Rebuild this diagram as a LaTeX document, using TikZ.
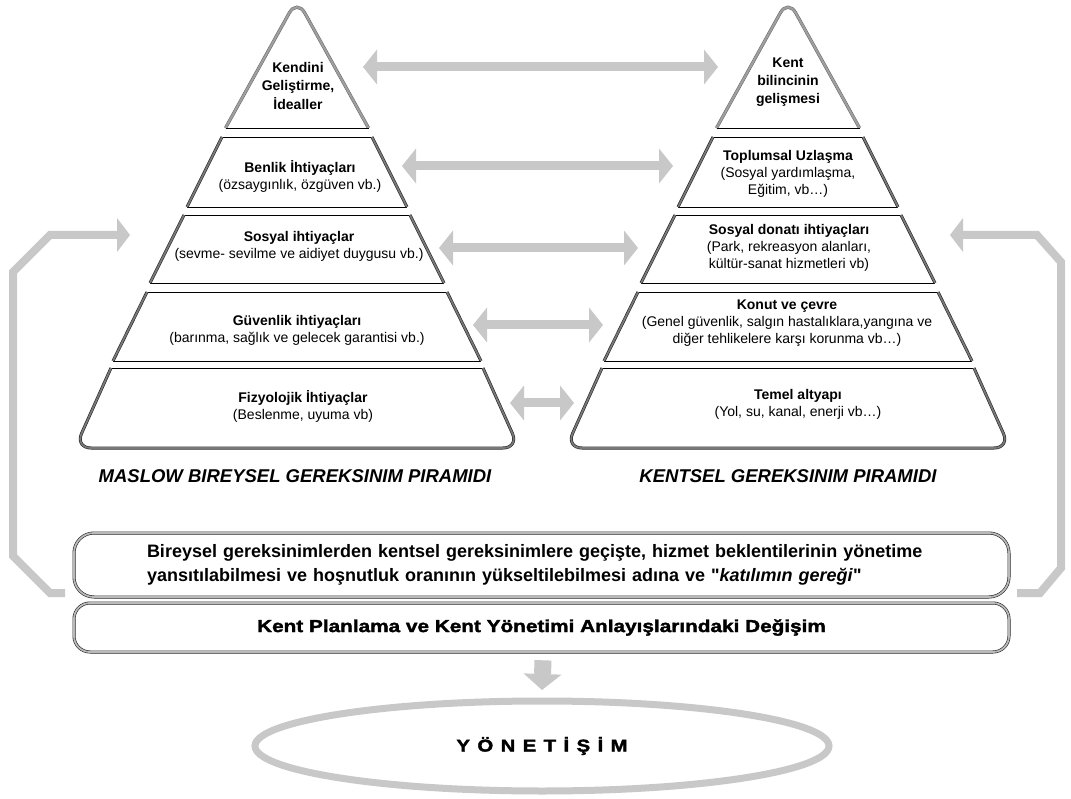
\documentclass[tikz,border=0pt]{standalone}
\usepackage{fontspec}
\setmainfont{Liberation Sans}[Ligatures=TeXOff]
\newfontfamily\blackfont{Liberation Sans Bold}[FakeBold=2,FakeStretch=1.2]
\usetikzlibrary{arrows.meta,shapes.geometric,calc}
\definecolor{arrgray}{RGB}{200,200,200}
\definecolor{sidegray}{RGB}{120,120,120}
\newcommand\drawpyramid[1]{%
  % top triangle
  \draw[topside, rounded corners=16pt] ({#1-71.5},128) -- (#1,-1) -- ({#1+71.5},128);
  \draw[thinline] ({#1-71.5},128) -- ({#1+71.5},128);
  % tier 2
  \draw[thinline] ({#1-75},137) -- ({#1+75},137);
  \draw[thinline] ({#1-110},207) -- ({#1+110},207);
  \draw[tierside] ({#1-75},137) -- ({#1-110},207);
  \draw[tierside] ({#1+75},137) -- ({#1+110},207);
  % tier 3
  \draw[thinline] ({#1-113},215) -- ({#1+113},215);
  \draw[thinline] ({#1-147},283) -- ({#1+147},283);
  \draw[tierside] ({#1-113},215) -- ({#1-147},283);
  \draw[tierside] ({#1+113},215) -- ({#1+147},283);
  % tier 4
  \draw[thinline] ({#1-150},292) -- ({#1+150},292);
  \draw[thinline] ({#1-184},361) -- ({#1+184},361);
  \draw[tierside] ({#1-150},292) -- ({#1-184},361);
  \draw[tierside] ({#1+150},292) -- ({#1+184},361);
  % tier 5
  \draw[thinline] ({#1-186},368) -- ({#1+186},368);
  \draw[tierside, rounded corners=16pt] ({#1-186},368) -- ({#1-222},448) -- ({#1+222},448) -- ({#1+186},368);
}
\begin{document}
\begin{tikzpicture}[x=1pt,y=-1pt,
  thinline/.style={draw=black, line width=0.9pt},
  tierside/.style={draw=black!85, line width=0.6pt, double=sidegray, double distance=1.8pt},
  topside/.style={draw=black!60, line width=0.5pt, double=gray!75, double distance=2.2pt},
  tiertext/.style={align=center, font=\fontsize{14}{17}\selectfont, inner sep=0pt},
  toptext/.style={align=center, font=\fontsize{14}{18}\selectfont\bfseries, inner sep=0pt},
  pyrlabel/.style={font=\fontsize{18.5}{22}\selectfont\bfseries\itshape, inner sep=0pt},
  dblarrow/.style={draw=arrgray, line width=9pt,
    {Triangle[length=14pt,width=35pt,line width=0pt]}-{Triangle[length=14pt,width=35pt,line width=0pt]}},
  bracketarrow/.style={draw=arrgray, line width=8pt,
    -{Triangle[length=13pt,width=34pt,line width=0pt]}},
  downarrow/.style={draw=arrgray, line width=17pt,
    -{Triangle[length=16pt,width=38pt,line width=0pt]}},
  roundbox/.style={draw=black!85, line width=0.6pt, double=gray!55, double distance=1.8pt,
    minimum width=935pt, inner sep=0pt},
]
\fill[white] (0,0) rectangle (1071,799);
\useasboundingbox (0,0) rectangle (1071,799);

% pyramids
\drawpyramid{297}
\drawpyramid{788}

% left pyramid texts
\node[toptext] (L1) at (298,86) {Kendini\\Geliştirme,\\İdealler};
\node[tiertext] (L2) at (300,176) {\textbf{Benlik İhtiyaçları}\\(özsaygınlık, özgüven vb.)};
\node[tiertext] (L3) at (299,246) {\textbf{Sosyal ihtiyaçlar}\\(sevme- sevilme ve aidiyet duygusu vb.)};
\node[tiertext] (L4) at (297,330) {\textbf{Güvenlik ihtiyaçları}\\(barınma, sağlık ve gelecek garantisi vb.)};
\node[tiertext] (L5) at (303,406) {\textbf{Fizyolojik İhtiyaçlar}\\(Beslenme, uyuma vb)};

% right pyramid texts
\node[toptext] (R1) at (788,82) {Kent\\bilincinin\\gelişmesi};
\node[tiertext] (R2) at (788,174) {\textbf{Toplumsal Uzlaşma}\\(Sosyal yardımlaşma,\\Eğitim, vb…)};
\node[tiertext] (R3) at (789,248) {\textbf{Sosyal donatı ihtiyaçları}\\(Park, rekreasyon alanları,\\kültür-sanat hizmetleri vb)};
\node[tiertext] (R4) at (787,323) {\textbf{Konut ve çevre}\\(Genel güvenlik, salgın hastalıklara,yangına ve\\diğer tehlikelere karşı korunma vb…)};
\node[tiertext] (R5) at (798,404) {\textbf{Temel altyapı}\\(Yol, su, kanal, enerji vb…)};

% pyramid labels
\node[pyrlabel] (mlab) at (295,476) {MASLOW BIREYSEL GEREKSINIM PIRAMIDI};
\node[pyrlabel] (klab) at (788,476) {KENTSEL GEREKSINIM PIRAMIDI};

% arrows between tiers
\coordinate (a1l) at (363,67);  \coordinate (a1r) at (718,67);
\coordinate (a2l) at (402,166); \coordinate (a2r) at (673,166);
\coordinate (a3l) at (439,248); \coordinate (a3r) at (638,248);
\coordinate (a4l) at (473,325); \coordinate (a4r) at (603,325);
\coordinate (a5l) at (510,403); \coordinate (a5r) at (574,403);
\draw[dblarrow] (a1l) -- (a1r);
\draw[dblarrow] (a2l) -- (a2r);
\draw[dblarrow] (a3l) -- (a3r);
\draw[dblarrow] (a4l) -- (a4r);
\draw[dblarrow] (a5l) -- (a5r);

% boxes
\node[roundbox, rounded corners=20pt, minimum height=64pt, text width=789pt, inner xsep=73pt,
      align=left, font=\fontsize{18}{24}\selectfont\bfseries] (bx1) at (541.5,565)
  {Bireysel gereksinimlerden kentsel gereksinimlere geçişte, hizmet beklentilerinin yönetime\\
   yansıtılabilmesi ve hoşnutluk oranının yükseltilebilmesi adına ve "\textit{katılımın gereği}"};
\node[roundbox, rounded corners=16pt, minimum height=49pt] (bx2) at (541.5,627.5)
  {\blackfont\fontsize{17.3}{20}\selectfont Kent Planlama ve Kent Yönetimi Anlayışlarındaki Değişim};

% side brackets
\coordinate (lbA) at (65,593);  \coordinate (lbB) at (50,593);
\coordinate (lbC) at (13,556);  \coordinate (lbD) at (13,272);
\coordinate (lbE) at (50,235);  \coordinate (lbF) at (130,235);
\draw[bracketarrow] (lbA) -- (lbB) -- (lbC) -- (lbD) -- (lbE) -- (lbF);
\coordinate (rbA) at (1017,593); \coordinate (rbB) at (1040,593);
\coordinate (rbC) at (1061,568); \coordinate (rbD) at (1061,262);
\coordinate (rbE) at (1037,235); \coordinate (rbF) at (950,235);
\draw[bracketarrow] (rbA) -- (rbB) -- (rbC) -- (rbD) -- (rbE) -- (rbF);

% governance ellipse
\node[ellipse, draw=arrgray, line width=7pt, minimum width=574pt, minimum height=90pt, inner sep=0pt] (gov) at (542,746)
  {\blackfont\fontsize{17}{20}\selectfont\addfontfeature{LetterSpace=10}Y Ö N E T İ Ş İ M};

% down arrow
\draw[downarrow] ([xshift=1.5pt,yshift=-8pt]bx2.south) -- ([yshift=7.5pt]gov.north);
\end{tikzpicture}
\end{document}
